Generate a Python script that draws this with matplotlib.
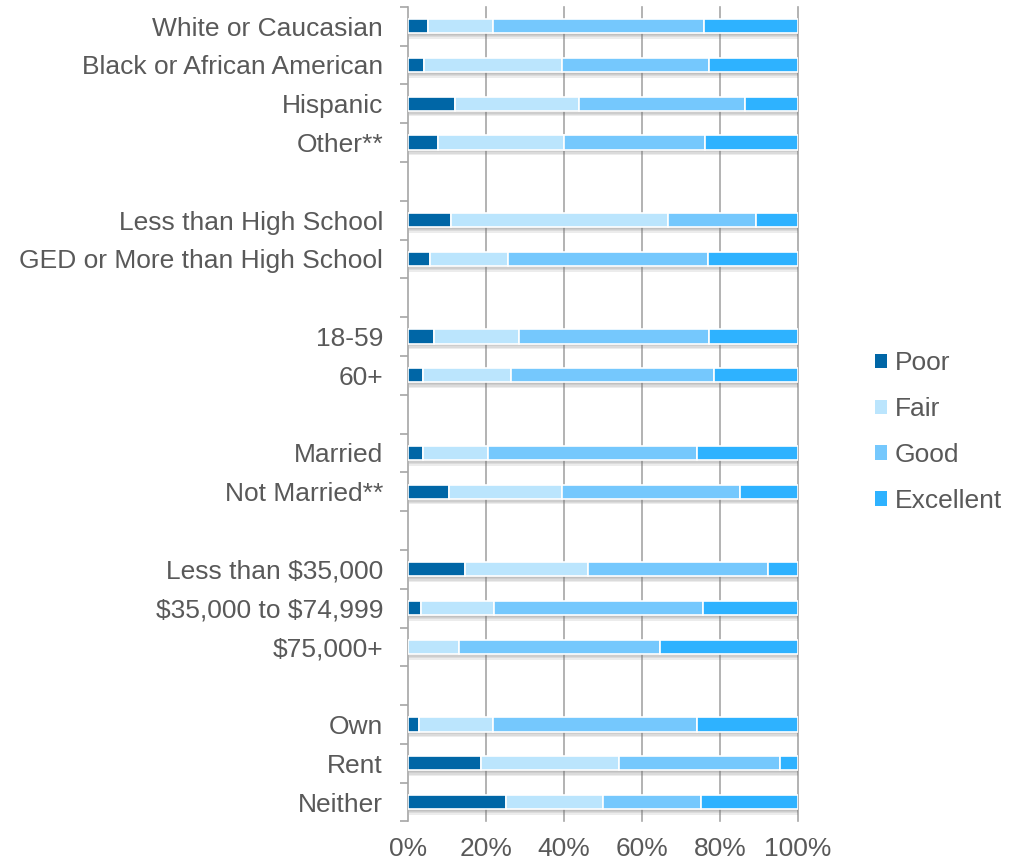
import matplotlib
matplotlib.use("Agg")
import matplotlib.pyplot as plt
import matplotlib.patheffects as pe
from matplotlib.patches import Patch
import numpy as np

plt.rcParams['font.family'] = ['Liberation Sans', 'DejaVu Sans']
plt.rcParams['text.parse_math'] = False

# rows top to bottom, '' = spacer row between groups
categories = ["White or Caucasian", "Black or African American", "Hispanic", "Other**", "",
              "Less than High School", "GED or More than High School", "",
              "18-59", "60+", "",
              "Married", "Not Married**", "",
              "Less than $35,000", "$35,000 to $74,999", "$75,000+", "",
              "Own", "Rent", "Neither"]

poor      = [5.0, 4.2, 12.0, 7.8, 0, 11.0, 5.7, 0, 6.7, 3.9, 0, 3.9, 10.6, 0, 14.7, 3.4, 0.0, 0, 2.9, 18.8, 25.0]
fair      = [16.9, 35.4, 31.9, 32.2, 0, 55.7, 19.9, 0, 21.7, 22.5, 0, 16.6, 29.0, 0, 31.5, 18.6, 13.1, 0, 18.9, 35.3, 25.0]
good      = [54.1, 37.6, 42.6, 36.1, 0, 22.4, 51.4, 0, 48.8, 52.1, 0, 53.7, 45.4, 0, 46.1, 53.6, 51.5, 0, 52.4, 41.2, 25.0]
excellent = [24.0, 22.8, 13.5, 23.9, 0, 10.9, 23.0, 0, 22.8, 21.5, 0, 25.8, 15.0, 0, 7.7, 24.4, 35.4, 0, 25.8, 4.7, 25.0]

series = ["Poor", "Fair", "Good", "Excellent"]
colors = ["#0066A6", "#BBE5FD", "#75C8FD", "#2EB2FF"]
text_color = "#595959"
grid_color = "#A6A6A6"

fig = plt.figure(figsize=(10.16, 8.64), dpi=100)
ax = fig.add_axes([0.4016, 0.0492, 0.3839, 0.943])

y = np.arange(len(categories))
left = np.zeros(len(categories))
# soft drop shadow under each segment
shadow = [pe.SimplePatchShadow(offset=(1, -d), shadow_rgbFace="#707070", alpha=0.13) for d in (1, 2, 3, 4)]
shadow.append(pe.Normal())
mask = np.array([c != "" for c in categories])
for name, vals, col in zip(series, [poor, fair, good, excellent], colors):
    vals = np.array(vals)
    bars = ax.barh(y[mask], vals[mask], left=left[mask], height=0.37, color=col,
                   edgecolor="white", linewidth=1.2, zorder=3)
    for b in bars:
        b.set_path_effects(shadow)
    left += vals

ax.set_xlim(0, 100)
ax.set_ylim(len(categories) - 0.5, -0.5)

for xv in [20, 40, 60, 80, 100]:
    ax.axvline(xv, color=grid_color, linewidth=1.2, zorder=1, clip_on=False)

ax.set_xticks([0, 20, 40, 60, 80, 100])
ax.set_xticklabels(["0%", "20%", "40%", "60%", "80%", "100%"])
ax.set_yticks(y)
ax.set_yticklabels(categories)
ax.set_yticks(np.arange(-0.5, len(categories)), minor=True)

ax.tick_params(axis="x", length=0, pad=11, labelsize=19, labelcolor=text_color)
ax.tick_params(axis="y", which="major", length=0, pad=18, labelsize=19, labelcolor=text_color)
ax.tick_params(axis="y", which="minor", length=6, width=1.2, color=grid_color)

for s in ["top", "right", "bottom"]:
    ax.spines[s].set_visible(False)
ax.spines["left"].set_color(grid_color)
ax.spines["left"].set_linewidth(1.2)

handles = [Patch(facecolor=c, edgecolor="none", label=n) for n, c in zip(series, colors)]
fig.legend(handles=handles, loc="center left", bbox_to_anchor=(0.848, 0.500), frameon=False,
           fontsize=19, handlelength=0.45, handleheight=0.45, handletextpad=0.3,
           labelspacing=0.83, borderpad=0, labelcolor=text_color)

fig.savefig("out.png", dpi=100)
